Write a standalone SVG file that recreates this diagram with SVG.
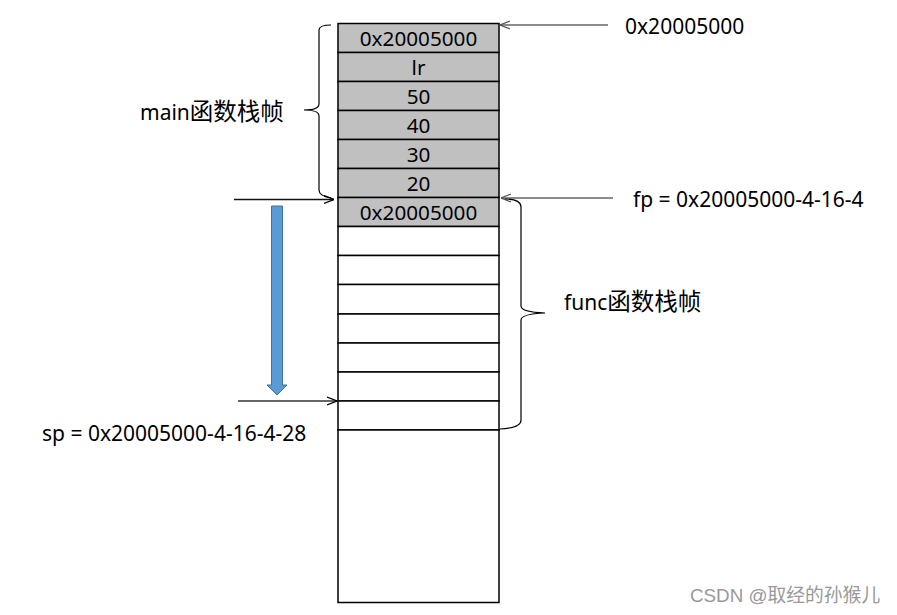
<svg xmlns="http://www.w3.org/2000/svg" width="897" height="615" viewBox="0 0 897 615">
<defs>
<style>
.cell{stroke:#000;stroke-width:1.5}
.g{fill:#C0C0C0}
.w{fill:#fff}
.t{font-family:"Noto Sans","Open Sans",sans-serif;font-size:20.7px;fill:#000}
.c{text-anchor:middle}
.lbl{font-family:"Noto Sans","Noto Sans CJK SC",sans-serif;font-size:21px;fill:#000}
.cjk{font-family:"Noto Sans CJK SC",sans-serif;font-size:23.5px}
.wm{font-family:"Liberation Sans","Noto Sans CJK SC",sans-serif;font-size:18.8px;fill:#999}
.conn{fill:none;stroke-width:1.3}
.brace{fill:none;stroke:#000;stroke-width:1.2}
</style>
<marker id="ahk" viewBox="0 0 10 10" refX="10" refY="5" markerWidth="10" markerHeight="10" markerUnits="userSpaceOnUse" orient="auto">
<path d="M0,1 L10,5 L0,9" fill="none" stroke="#000" stroke-width="1.2"/>
</marker>
<marker id="ahg" viewBox="0 0 10 10" refX="10" refY="5" markerWidth="10" markerHeight="10" markerUnits="userSpaceOnUse" orient="auto">
<path d="M0,1 L10,5 L0,9" fill="none" stroke="#555" stroke-width="1.2"/>
</marker>
</defs>
<rect width="897" height="615" fill="#fff"/>
<g id="stack">
<rect class="cell g" x="338" y="23.5" width="161" height="29"/>
<rect class="cell g" x="338" y="52.5" width="161" height="29"/>
<rect class="cell g" x="338" y="81.5" width="161" height="29"/>
<rect class="cell g" x="338" y="110.5" width="161" height="29"/>
<rect class="cell g" x="338" y="139.5" width="161" height="29"/>
<rect class="cell g" x="338" y="168.5" width="161" height="29"/>
<rect class="cell g" x="338" y="197.5" width="161" height="29"/>
<rect class="cell w" x="338" y="226.5" width="161" height="29"/>
<rect class="cell w" x="338" y="255.5" width="161" height="29"/>
<rect class="cell w" x="338" y="284.5" width="161" height="29.5"/>
<rect class="cell w" x="338" y="314" width="161" height="29"/>
<rect class="cell w" x="338" y="343" width="161" height="29"/>
<rect class="cell w" x="338" y="372" width="161" height="29"/>
<rect class="cell w" x="338" y="401" width="161" height="29"/>
<rect class="cell w" x="338" y="430" width="161" height="172.5"/>
<text class="t c" x="418.5" y="45.5">0x20005000</text>
<text class="t c" x="418.5" y="74.5">lr</text>
<text class="t c" x="418.5" y="103.5">50</text>
<text class="t c" x="418.5" y="132.5">40</text>
<text class="t c" x="418.5" y="161.5">30</text>
<text class="t c" x="418.5" y="190.5">20</text>
<text class="t c" x="418.5" y="219.5">0x20005000</text>
</g>
<g id="labels">
<text class="lbl" x="625" y="34">0x20005000</text>
<text class="lbl" x="633" y="206.5">fp = 0x20005000-4-16-4</text>
<text class="lbl" x="140" y="119.5">main<tspan class="cjk">函数栈帧</tspan></text>
<text class="lbl" x="564" y="309.5">func<tspan class="cjk">函数栈帧</tspan></text>
<text class="lbl" x="42" y="440.5">sp = 0x20005000-4-16-4-28</text>
</g>
<g id="blue-arrow">
<path d="M271.5,206 L282.5,206 L282.5,385 L287,385 L277,395 L267,385 L271.5,385 Z" fill="#5B9BD5" stroke="#41719C" stroke-width="1"/>
</g>
<g id="connectors">
<path class="conn" d="M608,25 L500,25" stroke="#666" marker-end="url(#ahg)"/>
<path class="conn" d="M613,198 L501,198" stroke="#666" marker-end="url(#ahg)"/>
<path class="conn" d="M234,199.5 L334,199.5" stroke="#111" marker-end="url(#ahk)"/>
<path class="conn" d="M238,401 L337,401" stroke="#333" marker-end="url(#ahk)"/>
<path class="brace" d="M331,25 Q319,25 319,30 L319,104 Q319,110 304,110 Q319,110 319,116 L319,190 Q319,196 331,198"/>
<path class="brace" d="M505,199 Q521,199 521,207 L521,306 Q521,312 545,313 Q521,314 521,320 L521,420 Q521,428 500,429"/>
</g>
<g id="watermark">
<text class="wm" x="690" y="602">CSDN @取经的孙猴儿</text>
</g>
</svg>
